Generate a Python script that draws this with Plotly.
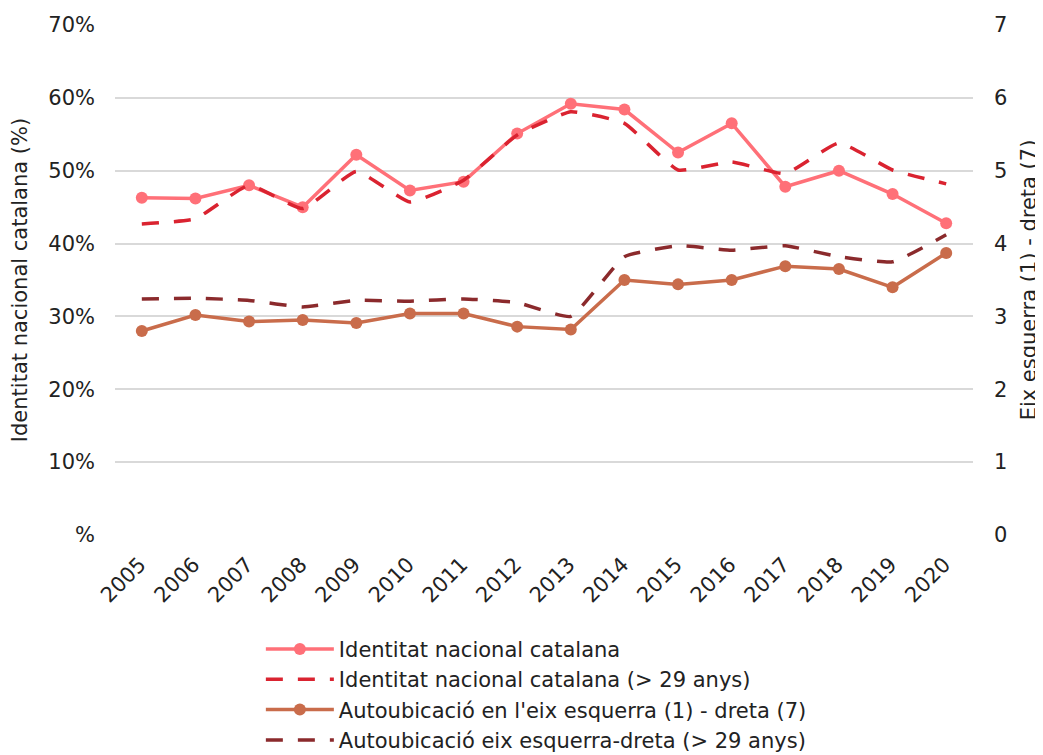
import plotly.graph_objects as go

years = [str(y) for y in range(2005, 2021)]
identitat = [46.3, 46.2, 48.0, 45.0, 52.2, 47.3, 48.5, 55.1, 59.2, 58.4, 52.5, 56.5, 47.8, 50.0, 46.8, 42.8]
identitat_29 = [42.7, 43.4, 48.0, 44.8, 49.9, 45.7, 48.7, 54.9, 58.1, 56.5, 50.1, 51.2, 49.6, 53.8, 50.1, 48.2]
autoubicacio = [2.80, 3.02, 2.93, 2.95, 2.91, 3.04, 3.04, 2.86, 2.82, 3.50, 3.44, 3.50, 3.69, 3.65, 3.40, 3.87]
autoubicacio_29 = [3.24, 3.25, 3.22, 3.13, 3.22, 3.21, 3.24, 3.19, 3.00, 3.82, 3.97, 3.91, 3.97, 3.82, 3.75, 4.12]

left_ticks = [0, 10, 20, 30, 40, 50, 60, 70]
left_labels = ["%", "10%", "20%", "30%", "40%", "50%", "60%", "70%"]
right_ticks = [0, 1, 2, 3, 4, 5, 6, 7]

FONT = "DejaVu Sans"
FS = 21
fig = go.Figure()
fig.add_trace(go.Scatter(x=years, y=identitat, name="Identitat nacional catalana",
                         mode="lines+markers", line=dict(color="#FF7078", width=3.5),
                         marker=dict(size=12, color="#FF7078"), yaxis="y"))
fig.add_trace(go.Scatter(x=years, y=identitat_29, name="Identitat nacional catalana (> 29 anys)",
                         mode="lines", line=dict(color="#DA2330", width=3.5, dash="17px,15px",
                                                 shape="spline", smoothing=0.4), yaxis="y"))
fig.add_trace(go.Scatter(x=years, y=autoubicacio, name="Autoubicació en l'eix esquerra (1) - dreta (7)",
                         mode="lines+markers", line=dict(color="#C96C4B", width=3.5),
                         marker=dict(size=12, color="#C96C4B"), yaxis="y2"))
fig.add_trace(go.Scatter(x=years, y=autoubicacio_29, name="Autoubicació eix esquerra-dreta (> 29 anys)",
                         mode="lines", line=dict(color="#8B2A2C", width=3.5, dash="17px,15px",
                                                 shape="spline", smoothing=0.4), yaxis="y2"))

# the page body adds an ~8px offset, so the figure is drawn 8px smaller
fig.update_layout(
    width=1035, height=747,
    margin=dict(l=107, r=70, t=17, b=220, autoexpand=False),
    paper_bgcolor="white", plot_bgcolor="white",
    font=dict(family=FONT, size=FS, color="#222222"),
    showlegend=True,
    legend=dict(x=0.17, y=-0.184, xanchor="left", yanchor="top", orientation="v",
                itemwidth=68, tracegroupgap=0,
                font=dict(family=FONT, size=FS, color="#222222"), bgcolor="rgba(0,0,0,0)"),
    xaxis=dict(type="category", tickangle=-45, showgrid=False, showline=False, zeroline=False,
               ticks="", range=[-0.5, 15.5], tickfont=dict(size=FS), ticklabelshift=-2,
               ticklabelstandoff=12, automargin=False),
    yaxis=dict(range=[0, 70], tickvals=left_ticks, ticktext=left_labels, showgrid=True,
               gridcolor="#D9D9D9", gridwidth=1.5, zeroline=False, showline=False, ticks="",
               ticklabelstandoff=19, automargin=False,
               title=dict(text="Identitat nacional catalana (%)", font=dict(size=FS), standoff=14),
               tickfont=dict(size=FS)),
    yaxis2=dict(range=[0, 7], tickvals=right_ticks, overlaying="y", side="right", showgrid=False,
                zeroline=False, showline=False, ticks="", ticklabelstandoff=20, automargin=False,
                title=dict(text="Eix esquerra (1) - dreta (7)", font=dict(size=FS), standoff=14),
                tickfont=dict(size=FS)),
)

fig.write_html("out.html")
